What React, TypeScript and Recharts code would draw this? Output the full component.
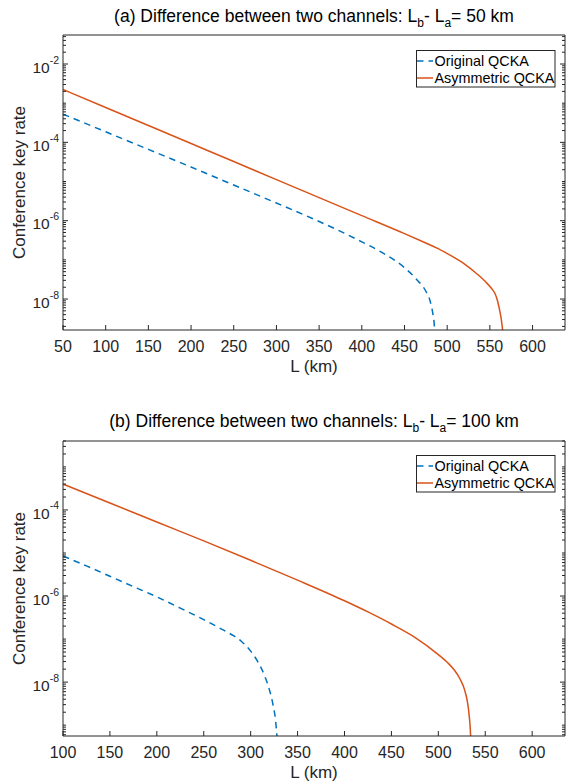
import { LineChart, Line, XAxis, YAxis, Legend } from 'recharts'

// (a) L_b - L_a = 50 km
const origDistA = [50, 100, 150, 200, 250, 300, 350, 400, 425, 450, 465, 475, 480, 483, 485, 486.5]
const origRateA = [5.25e-4, 1.86e-4, 6.61e-5, 2.34e-5, 8.13e-6, 2.82e-6, 9.55e-7, 2.88e-7, 1.48e-7, 6.31e-8, 3.02e-8, 1.58e-8, 8.91e-9, 4.47e-9, 2.0e-9, 1e-12]
const asymDistA = [50, 100, 150, 200, 250, 300, 350, 400, 450, 475, 490, 505, 520, 535, 545, 552, 556, 559, 562, 564, 565.5, 566.5]
const asymRateA = [2.24e-3, 7.76e-4, 2.69e-4, 9.33e-5, 3.24e-5, 1.12e-5, 3.89e-6, 1.35e-6, 4.68e-7, 2.69e-7, 1.91e-7, 1.26e-7, 7.94e-8, 4.37e-8, 2.75e-8, 1.86e-8, 1.38e-8, 8.91e-9, 4.47e-9, 2.4e-9, 1.0e-9, 1e-12]

// (b) L_b - L_a = 100 km
const origDistB = [100, 125, 150, 175, 200, 225, 250, 270, 280, 290, 300, 308, 315, 320, 324, 327, 328.5, 329.5]
const origRateB = [8.51e-6, 5.01e-6, 2.88e-6, 1.66e-6, 9.55e-7, 5.25e-7, 2.82e-7, 1.66e-7, 1.26e-7, 8.91e-8, 5.25e-8, 2.88e-8, 1.38e-8, 6.61e-9, 2.82e-9, 1.0e-9, 3.16e-10, 1e-12]
const asymDistB = [100, 150, 200, 250, 300, 350, 400, 425, 450, 475, 500, 510, 517, 523, 528, 531, 533, 534.5, 535.5]
const asymRateB = [3.98e-4, 1.45e-4, 5.25e-5, 1.91e-5, 6.76e-6, 2.34e-6, 7.76e-7, 4.27e-7, 2.24e-7, 1.1e-7, 4.37e-8, 2.82e-8, 1.91e-8, 1.2e-8, 6.61e-9, 3.47e-9, 1.58e-9, 5.0e-10, 1e-12]

const xTicksA = [50, 100, 150, 200, 250, 300, 350, 400, 450, 500, 550, 600]
const xTicksB = [100, 150, 200, 250, 300, 350, 400, 450, 500, 550, 600]
const yExpsA = [-8, -6, -4, -2]
const yExpsB = [-8, -6, -4]
const seriesNames = ['Original QCKA', 'Asymmetric QCKA']

const FONT = 'Arial, "Liberation Sans", Helvetica, sans-serif'
const AXIS = '#262626'
const BLUE = '#0072BD'
const ORANGE = '#D95319'
const W = 566
const H = 391
const LEFT = 63
const RIGHT = 565

const toPoints = (dist: number[], rate: number[]) => dist.map((L, i) => ({ L, rate: rate[i] }))

// every decade and its 2..9 multiples that fall inside the domain
const logTicks = (lo: number, hi: number) => {
  const out: number[] = []
  for (let e = -12; e <= 0; e++) {
    for (let m = 1; m <= 9; m++) {
      const v = m * Math.pow(10, e)
      if (v >= lo && v <= hi) out.push(v)
    }
  }
  return out
}

const majorExp = (v: number, exps: number[]) => {
  const e = Math.round(Math.log10(v))
  return Math.abs(Math.log10(v) - e) < 1e-6 && exps.includes(e) ? e : null
}

const makeYTick = (exps: number[], side: 'left' | 'right') => (props: any) => {
  const { x, y, payload } = props
  const e = majorExp(payload.value, exps)
  const len = e !== null ? 5 : 3
  const dir = side === 'left' ? 1 : -1
  return (
    <g>
      <line x1={x} x2={x + dir * len} y1={y} y2={y} stroke={AXIS} strokeWidth={1} />
      {side === 'left' && e !== null && (
        <text x={x - 4} y={y + 8.7} textAnchor="end" fill={AXIS} fontFamily={FONT}>
          <tspan fontSize={15.5}>10</tspan>
          <tspan fontSize={10.5} dy={-9.2}>{String(e)}</tspan>
        </text>
      )}
    </g>
  )
}

const makeXTick = (side: 'top' | 'bottom') => (props: any) => {
  const { x, y, payload } = props
  const dir = side === 'bottom' ? -1 : 1
  return (
    <g>
      <line x1={x} x2={x} y1={y} y2={y + dir * 5} stroke={AXIS} strokeWidth={1} />
      {side === 'bottom' && (
        <text x={x} y={y + 22} textAnchor="middle" fill={AXIS} fontFamily={FONT} fontSize={16}>
          {payload.value}
        </text>
      )}
    </g>
  )
}

const LegendBox = ({ payload }: any) => {
  const items = [...(payload || [])].sort(
    (a: any, b: any) => seriesNames.indexOf(a.value) - seriesNames.indexOf(b.value)
  )
  return (
    <svg width={140} height={38} style={{ display: 'block' }}>
      <rect x={0.5} y={0.5} width={138.5} height={36.5} fill="#fff" stroke={AXIS} strokeWidth={1} />
      {items.map((item: any, i: number) => {
        const cy = 11 + i * 17
        return (
          <g key={i}>
            <line
              x1={1}
              x2={17}
              y1={cy}
              y2={cy}
              stroke={item.color}
              strokeWidth={1.5}
              strokeDasharray={item.payload?.strokeDasharray}
            />
            <text x={18.5} y={cy + 5.2} fill="#000" fontFamily={FONT} fontSize={14.4}>
              {item.value}
            </text>
          </g>
        )
      })}
    </svg>
  )
}

type PanelProps = {
  tag: string
  gap: string
  xDomain: [number, number]
  xTicks: number[]
  yDomain: [number, number]
  yExps: number[]
  orig: { L: number; rate: number }[]
  asym: { L: number; rate: number }[]
  plotTop: number
  plotBottom: number
  titleY: number
  legendTop: number
}

const Panel = ({ tag, gap, xDomain, xTicks, yDomain, yExps, orig, asym, plotTop, plotBottom, titleY, legendTop }: PanelProps) => {
  const yTicks = logTicks(yDomain[0], yDomain[1])
  const midX = (LEFT + RIGHT) / 2
  return (
    <div style={{ position: 'relative', width: W, height: H }}>
      <LineChart
        width={W}
        height={H}
        margin={{ top: plotTop - 1, right: W - RIGHT - 1, bottom: H - plotBottom - 1, left: LEFT - 1 }}
      >
        <XAxis
          dataKey="L"
          type="number"
          domain={xDomain}
          ticks={xTicks}
          interval={0}
          allowDataOverflow
          height={1}
          tickSize={0}
          tickMargin={0}
          tickLine={false}
          axisLine={{ stroke: AXIS, strokeWidth: 1 }}
          tick={makeXTick('bottom')}
        />
        <XAxis
          xAxisId="top"
          orientation="top"
          type="number"
          domain={xDomain}
          ticks={xTicks}
          interval={0}
          allowDataOverflow
          height={1}
          tickSize={0}
          tickMargin={0}
          tickLine={false}
          axisLine={{ stroke: AXIS, strokeWidth: 1 }}
          tick={makeXTick('top')}
        />
        <YAxis
          scale="log"
          type="number"
          domain={yDomain}
          ticks={yTicks}
          interval={0}
          allowDataOverflow
          width={1}
          tickSize={0}
          tickMargin={0}
          tickLine={false}
          axisLine={{ stroke: AXIS, strokeWidth: 1 }}
          tick={makeYTick(yExps, 'left')}
        />
        <YAxis
          yAxisId="right"
          orientation="right"
          scale="log"
          type="number"
          domain={yDomain}
          ticks={yTicks}
          interval={0}
          allowDataOverflow
          width={1}
          tickSize={0}
          tickMargin={0}
          tickLine={false}
          axisLine={{ stroke: AXIS, strokeWidth: 1 }}
          tick={makeYTick(yExps, 'right')}
        />
        <Line
          data={orig}
          dataKey="rate"
          name={seriesNames[0]}
          type="monotone"
          stroke={BLUE}
          strokeWidth={1.5}
          strokeDasharray="6.5 5"
          dot={false}
          activeDot={false}
          isAnimationActive={false}
        />
        <Line
          data={asym}
          dataKey="rate"
          name={seriesNames[1]}
          type="monotone"
          stroke={ORANGE}
          strokeWidth={1.5}
          dot={false}
          activeDot={false}
          isAnimationActive={false}
        />
        <Legend
          layout="vertical"
          align="center"
          verticalAlign="middle"
          content={LegendBox}
          wrapperStyle={{ left: 416, top: legendTop, width: 140, height: 38 }}
        />
      </LineChart>
      <svg
        width={W}
        height={H}
        style={{ position: 'absolute', left: 0, top: 0, pointerEvents: 'none' }}
        fontFamily={FONT}
        fill={AXIS}
      >
        <text x={midX} y={titleY} textAnchor="middle" fontSize={17.5} fill="#000">
          ({tag}) Difference between two channels: L
          <tspan fontSize={12} dy={5}>b</tspan>
          <tspan dy={-5}>- L</tspan>
          <tspan fontSize={12} dy={5}>a</tspan>
          <tspan dy={-5}>= {gap} km</tspan>
        </text>
        <text x={midX} y={plotBottom + 41.5} textAnchor="middle" fontSize={17}>
          L (km)
        </text>
        <text
          transform={`translate(24.5, ${(plotTop + plotBottom) / 2}) rotate(-90)`}
          textAnchor="middle"
          fontSize={17}
        >
          Conference key rate
        </text>
      </svg>
    </div>
  )
}

export default function App() {
  return (
    <div style={{ width: W, height: 782, background: '#fff' }}>
      <style>{'body{margin:0}'}</style>
      <Panel
        tag="a"
        gap="50"
        xDomain={[50, 638]}
        xTicks={xTicksA}
        yDomain={[1.62e-9, 0.055]}
        yExps={yExpsA}
        orig={toPoints(origDistA, origRateA)}
        asym={toPoints(asymDistA, asymRateA)}
        plotTop={35}
        plotBottom={330}
        titleY={21.5}
        legendTop={50}
      />
      <Panel
        tag="b"
        gap="100"
        xDomain={[100, 635]}
        xTicks={xTicksB}
        yDomain={[5.6e-10, 4.0e-3]}
        yExps={yExpsB}
        orig={toPoints(origDistB, origRateB)}
        asym={toPoints(asymDistB, asymRateB)}
        plotTop={50}
        plotBottom={345}
        titleY={35.7}
        legendTop={64}
      />
    </div>
  )
}
